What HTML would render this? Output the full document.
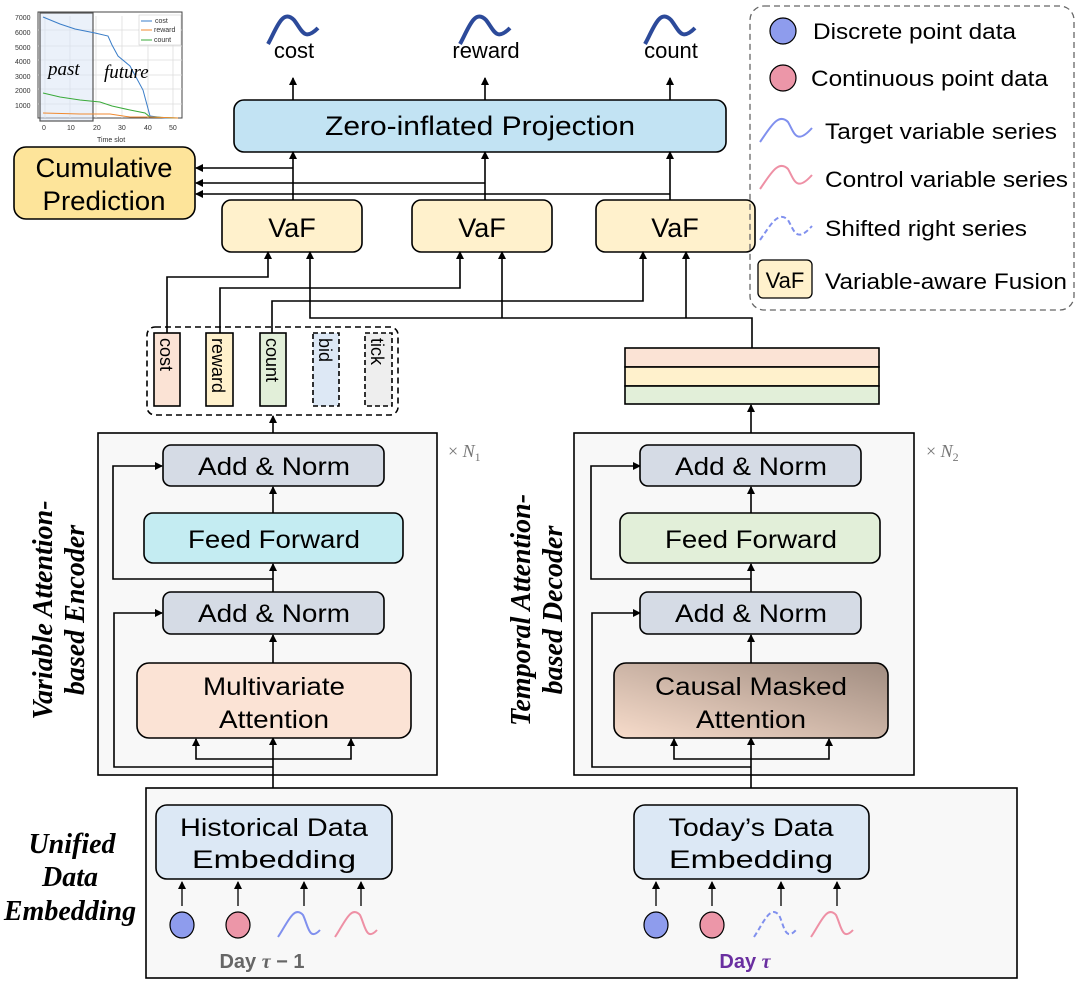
<!DOCTYPE html>
<html><head><meta charset="utf-8"><style>
html,body{margin:0;padding:0;background:#fff}
svg text{font-family:"Liberation Sans",sans-serif}
svg text.s,svg .s text{font-family:"Liberation Serif",serif;font-style:italic;font-weight:bold}
svg text.it{font-family:"Liberation Serif",serif;font-style:italic;font-weight:normal}
</style></head><body>
<svg width="1080" height="987" viewBox="0 0 1080 987" xmlns="http://www.w3.org/2000/svg">
<defs>
<marker id="a" markerWidth="8" markerHeight="8" refX="7" refY="4" orient="auto" markerUnits="userSpaceOnUse"><path d="M0,0 L8,4 L0,8 z" fill="#000"/></marker>
<linearGradient id="cm" x1="0" y1="1" x2="1" y2="0"><stop offset="0" stop-color="#f7dccb"/><stop offset="1" stop-color="#a08c80"/></linearGradient>
</defs>
<g stroke="#000" stroke-width="1.6" fill="none">

<!-- chart -->
<rect x="38" y="12" width="144" height="106" fill="#fff" stroke="#444" stroke-width="1"/>
<g stroke="#ddd" stroke-width="0.8">
<line x1="45" y1="16" x2="45" y2="118"/><line x1="70" y1="16" x2="70" y2="118"/><line x1="96" y1="16" x2="96" y2="118"/><line x1="122" y1="16" x2="122" y2="118"/><line x1="148" y1="16" x2="148" y2="118"/><line x1="173" y1="16" x2="173" y2="118"/>
<line x1="38" y1="30" x2="182" y2="30"/><line x1="38" y1="46" x2="182" y2="46"/><line x1="38" y1="60" x2="182" y2="60"/><line x1="38" y1="75" x2="182" y2="75"/><line x1="38" y1="89" x2="182" y2="89"/><line x1="38" y1="104" x2="182" y2="104"/>
</g>
<rect x="40" y="13" width="53" height="108" fill="#dbe5f5" fill-opacity="0.55" stroke="#555" stroke-width="1.2"/>
<polyline points="43,17 60,24 75,29 95,33 108,36 112,45 118,56 130,66 143,90 150,116 165,118 178,118" stroke="#3a7dc8" stroke-width="1"/>
<polyline points="43,93 60,97 80,100 100,102 112,106 130,110 145,113 150,117 178,118" stroke="#3aaa3a" stroke-width="1"/>
<polyline points="43,113 80,114 110,114 130,117 150,117 178,118" stroke="#f08a30" stroke-width="1"/>
<rect x="139" y="15" width="42" height="30" fill="#fff" stroke="#ccc" stroke-width="0.6"/>
<line x1="141" y1="21" x2="152" y2="21" stroke="#3a7dc8" stroke-width="1"/>
<line x1="141" y1="30" x2="152" y2="30" stroke="#f08a30" stroke-width="1"/>
<line x1="141" y1="40" x2="152" y2="40" stroke="#3aaa3a" stroke-width="1"/>

<!-- output curves -->
<path d="M268,44 C276,30 282,8 294,20 C302,30 304,42 318,28" stroke="#2c4a9a" stroke-width="4"/>
<path d="M460,44 C468,30 474,8 486,20 C494,30 496,42 510,28" stroke="#2c4a9a" stroke-width="4"/>
<path d="M645,44 C653,30 659,8 671,20 C679,30 681,42 695,28" stroke="#2c4a9a" stroke-width="4"/>
<line x1="293" y1="100" x2="293" y2="78" marker-end="url(#a)"/>
<line x1="485" y1="100" x2="485" y2="78" marker-end="url(#a)"/>
<line x1="670" y1="100" x2="670" y2="78" marker-end="url(#a)"/>

<rect x="234" y="100" width="492" height="52" rx="10" fill="#c2e3f3"/>
<rect x="14" y="147" width="181" height="72" rx="12" fill="#fde49a"/>

<line x1="293" y1="200" x2="293" y2="152" marker-end="url(#a)"/>
<line x1="485" y1="200" x2="485" y2="152" marker-end="url(#a)"/>
<line x1="670" y1="200" x2="670" y2="152" marker-end="url(#a)"/>
<polyline points="293,168 196,168" marker-end="url(#a)"/>
<polyline points="485,183 196,183" marker-end="url(#a)"/>
<polyline points="670,194 196,194" marker-end="url(#a)"/>

<rect x="222" y="200" width="140" height="52" rx="9" fill="#fff1cc"/>
<rect x="412" y="200" width="140" height="52" rx="9" fill="#fff1cc"/>
<rect x="596" y="200" width="159" height="52" rx="9" fill="#fff1cc"/>

<polyline points="167,333 167,277 268,277 268,252" marker-end="url(#a)"/>
<polyline points="220,333 220,288 460,288 460,252" marker-end="url(#a)"/>
<polyline points="272,333 272,301 643,301 643,252" marker-end="url(#a)"/>
<polyline points="752,348 752,318 310,318 310,252" marker-end="url(#a)"/>
<polyline points="502,318 502,252" marker-end="url(#a)"/>
<polyline points="686,318 686,252" marker-end="url(#a)"/>

<rect x="147" y="327" width="251" height="88" rx="8" stroke-dasharray="6,4"/>
<rect x="154" y="333" width="26" height="73" fill="#fbe3d5"/>
<rect x="206" y="333" width="27" height="73" fill="#fff1cc"/>
<rect x="260" y="333" width="26" height="73" fill="#e2efd9"/>
<rect x="313" y="333" width="26" height="73" fill="#dde8f5" stroke-dasharray="5,3"/>
<rect x="365" y="333" width="27" height="73" fill="#eeeeee" stroke-dasharray="5,3"/>

<rect x="625" y="348" width="254" height="19" fill="#fbe3d5"/>
<rect x="625" y="367" width="254" height="19" fill="#fff1cc"/>
<rect x="625" y="386" width="254" height="18" fill="#e2efd9"/>

<line x1="273" y1="445" x2="273" y2="416" marker-end="url(#a)"/>
<line x1="751" y1="445" x2="751" y2="405" marker-end="url(#a)"/>

<rect x="98" y="433" width="339" height="342" fill="#f8f8f8"/>
<rect x="574" y="433" width="340" height="342" fill="#f8f8f8"/>

<g id="enc">
<line x1="273" y1="788" x2="273" y2="738" marker-end="url(#a)"/>
<polyline points="273,759 196,759 196,739" marker-end="url(#a)"/>
<polyline points="273,759 351,759 351,739" marker-end="url(#a)"/>
<polyline points="273,767 114,767 114,613 162,613" marker-end="url(#a)"/>
<line x1="273" y1="663" x2="273" y2="635" marker-end="url(#a)"/>
<line x1="273" y1="592" x2="273" y2="564" marker-end="url(#a)"/>
<polyline points="273,579 113,579 113,466 162,466" marker-end="url(#a)"/>
<line x1="273" y1="513" x2="273" y2="487" marker-end="url(#a)"/>
</g>
<use href="#enc" transform="translate(478,0)"/>

<rect x="163" y="445" width="221" height="41" rx="8" fill="#d5dbe5"/>
<rect x="144" y="513" width="259" height="50" rx="9" fill="#c4ecf2"/>
<rect x="163" y="592" width="221" height="42" rx="8" fill="#d5dbe5"/>
<rect x="137" y="663" width="274" height="75" rx="12" fill="#fbe3d5"/>

<rect x="640" y="445" width="221" height="41" rx="8" fill="#d5dbe5"/>
<rect x="620" y="513" width="260" height="50" rx="9" fill="#e2efd9"/>
<rect x="640" y="592" width="221" height="42" rx="8" fill="#d5dbe5"/>
<rect x="614" y="663" width="274" height="75" rx="12" fill="url(#cm)"/>

<rect x="146" y="788" width="871" height="190" fill="#f8f8f8"/>
<rect x="156" y="805" width="236" height="74" rx="11" fill="#dce8f5"/>
<rect x="634" y="805" width="235" height="74" rx="11" fill="#dce8f5"/>
<g stroke-width="1.3">
<line x1="182" y1="906" x2="182" y2="882" marker-end="url(#a)"/>
<line x1="238" y1="906" x2="238" y2="882" marker-end="url(#a)"/>
<line x1="304" y1="906" x2="304" y2="882" marker-end="url(#a)"/>
<line x1="361" y1="906" x2="361" y2="882" marker-end="url(#a)"/>
<line x1="656" y1="906" x2="656" y2="882" marker-end="url(#a)"/>
<line x1="712" y1="906" x2="712" y2="882" marker-end="url(#a)"/>
<line x1="781" y1="906" x2="781" y2="882" marker-end="url(#a)"/>
<line x1="837" y1="906" x2="837" y2="882" marker-end="url(#a)"/>
</g>
<ellipse cx="182" cy="925" rx="12" ry="13" fill="#8e9ced" stroke-width="1.2"/>
<ellipse cx="238" cy="925" rx="12" ry="13" fill="#ec96a8" stroke-width="1.2"/>
<ellipse cx="656" cy="925" rx="12" ry="13" fill="#8e9ced" stroke-width="1.2"/>
<ellipse cx="712" cy="925" rx="12" ry="13" fill="#ec96a8" stroke-width="1.2"/>
<path d="M278,937 C288,922 294,905 303,915 C308,925 309,942 320,930" stroke="#8090ee" stroke-width="2"/>
<path d="M335,937 C345,922 351,905 360,915 C365,925 366,942 377,930" stroke="#ee90a5" stroke-width="2"/>
<path d="M754,937 C764,922 770,905 779,915 C784,925 785,942 796,930" stroke="#8090ee" stroke-width="2" stroke-dasharray="5,3"/>
<path d="M811,937 C821,922 827,905 836,915 C841,925 842,942 853,930" stroke="#ee90a5" stroke-width="2"/>

<rect x="750" y="6" width="324" height="304" rx="14" stroke="#666" stroke-width="1.3" stroke-dasharray="6,4"/>
<ellipse cx="783" cy="31" rx="13" ry="13" fill="#8e9ced" stroke-width="1.2"/>
<ellipse cx="783" cy="78" rx="13" ry="13" fill="#ec96a8" stroke-width="1.2"/>
<path d="M760,142 C770,128 778,112 788,122 C794,132 796,146 812,128" stroke="#8090ee" stroke-width="2"/>
<path d="M760,189 C770,175 778,159 788,169 C794,179 796,193 812,175" stroke="#ee90a5" stroke-width="2"/>
<path d="M760,240 C770,226 778,210 788,220 C794,230 796,244 812,226" stroke="#8090ee" stroke-width="2" stroke-dasharray="5,3"/>
<rect x="758" y="260" width="54" height="38" rx="5" fill="#fff1cc" stroke-width="1.3"/>
</g>

<g font-size="7" fill="#333">
<text x="155" y="23">cost</text><text x="154" y="32">reward</text><text x="154" y="42">count</text>
<text x="15" y="20">7000</text><text x="15" y="35">6000</text><text x="15" y="50">5000</text><text x="15" y="64">4000</text><text x="15" y="79">3000</text><text x="15" y="93">2000</text><text x="15" y="108">1000</text>
<text x="42" y="130">0</text><text x="67" y="130">10</text><text x="93" y="130">20</text><text x="118" y="130">30</text><text x="144" y="130">40</text><text x="169" y="130">50</text>
<text x="97" y="142">Time slot</text>
</g>
<text x="48" y="75" class="it" font-size="19">past</text>
<text x="104" y="78" class="it" font-size="19">future</text>

<g font-size="20" text-anchor="middle" fill="#000" lengthAdjust="spacingAndGlyphs">
<text x="294" y="58" font-size="22">cost</text><text x="486" y="58" font-size="22">reward</text><text x="671" y="58" font-size="22">count</text>
<text x="480" y="135" font-size="27" textLength="310" lengthAdjust="spacingAndGlyphs">Zero-inflated Projection</text>
<text x="104" y="177" font-size="27" textLength="137" lengthAdjust="spacingAndGlyphs">Cumulative</text>
<text x="104" y="210" font-size="27" textLength="123" lengthAdjust="spacingAndGlyphs">Prediction</text>
<text x="292" y="237" font-size="27">VaF</text><text x="482" y="237" font-size="27">VaF</text><text x="675" y="237" font-size="27">VaF</text>
<text x="274" y="475" font-size="25" textLength="152" lengthAdjust="spacingAndGlyphs">Add &amp; Norm</text>
<text x="274" y="548" font-size="25" textLength="172" lengthAdjust="spacingAndGlyphs">Feed Forward</text>
<text x="274" y="622" font-size="25" textLength="152" lengthAdjust="spacingAndGlyphs">Add &amp; Norm</text>
<text x="274" y="695" font-size="25" textLength="142" lengthAdjust="spacingAndGlyphs">Multivariate</text>
<text x="274" y="728" font-size="25" textLength="110" lengthAdjust="spacingAndGlyphs">Attention</text>
<text x="751" y="475" font-size="25" textLength="152" lengthAdjust="spacingAndGlyphs">Add &amp; Norm</text>
<text x="751" y="548" font-size="25" textLength="172" lengthAdjust="spacingAndGlyphs">Feed Forward</text>
<text x="751" y="622" font-size="25" textLength="152" lengthAdjust="spacingAndGlyphs">Add &amp; Norm</text>
<text x="751" y="695" font-size="25" textLength="192" lengthAdjust="spacingAndGlyphs">Causal Masked</text>
<text x="751" y="728" font-size="25" textLength="110" lengthAdjust="spacingAndGlyphs">Attention</text>
<text x="274" y="836" font-size="25" textLength="188" lengthAdjust="spacingAndGlyphs">Historical  Data</text>
<text x="274" y="868" font-size="25" textLength="164" lengthAdjust="spacingAndGlyphs">Embedding</text>
<text x="751" y="836" font-size="25" textLength="165" lengthAdjust="spacingAndGlyphs">Today’s  Data</text>
<text x="751" y="868" font-size="25" textLength="164" lengthAdjust="spacingAndGlyphs">Embedding</text>
</g>
<g font-size="18" fill="#000">
<text transform="translate(160,338) rotate(90)">cost</text>
<text transform="translate(212,338) rotate(90)">reward</text>
<text transform="translate(266,338) rotate(90)">count</text>
<text transform="translate(319,338) rotate(90)">bid</text>
<text transform="translate(371,338) rotate(90)">tick</text>
</g>
<text x="448" y="457" fill="#777" font-size="18" class="it" style="font-style:normal">× <tspan font-style="italic">N</tspan><tspan font-size="12" dy="4">1</tspan></text>
<text x="926" y="457" fill="#777" font-size="18" class="it" style="font-style:normal">× <tspan font-style="italic">N</tspan><tspan font-size="12" dy="4">2</tspan></text>
<g class="s" font-size="28" text-anchor="middle" fill="#000">
<text transform="translate(52,610) rotate(-90)">Variable Attention-</text>
<text transform="translate(84,610) rotate(-90)">based Encoder</text>
<text transform="translate(530,610) rotate(-90)">Temporal Attention-</text>
<text transform="translate(562,610) rotate(-90)">based Decoder</text>
<text x="72" y="853">Unified</text>
<text x="70" y="886">Data</text>
<text x="70" y="920">Embedding</text>
</g>
<text x="262" y="968" text-anchor="middle" font-size="20" font-weight="bold" fill="#666">Day <tspan font-family="Liberation Serif,serif" font-style="italic">τ</tspan> − 1</text>
<text x="745" y="968" text-anchor="middle" font-size="20" font-weight="bold" fill="#6a2fa0">Day <tspan font-family="Liberation Serif,serif" font-style="italic">τ</tspan></text>
<g font-size="22" fill="#000">
<text x="813" y="39" textLength="203" lengthAdjust="spacingAndGlyphs">Discrete point data</text>
<text x="811" y="86" textLength="237" lengthAdjust="spacingAndGlyphs">Continuous point data</text>
<text x="825" y="139" textLength="232" lengthAdjust="spacingAndGlyphs">Target variable series</text>
<text x="825" y="187" textLength="243" lengthAdjust="spacingAndGlyphs">Control variable series</text>
<text x="825" y="236" textLength="202" lengthAdjust="spacingAndGlyphs">Shifted right series</text>
<text x="825" y="289" textLength="242" lengthAdjust="spacingAndGlyphs">Variable-aware Fusion</text>
<text x="785" y="288" text-anchor="middle">VaF</text>
</g>
</svg>
</body></html>
